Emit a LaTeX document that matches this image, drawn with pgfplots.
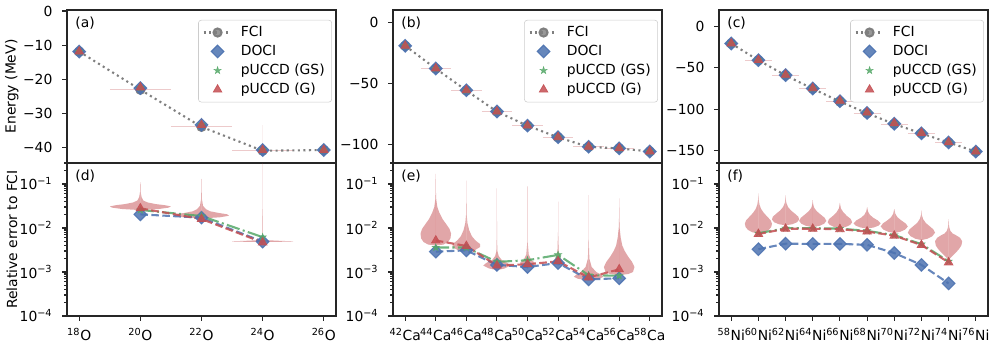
\documentclass[border=0pt]{standalone}
\usepackage{fontspec}
\setmainfont{DejaVu Sans}
\usepackage{pgfplots}
\usepackage{pgfplotstable}
\pgfplotsset{compat=1.18}

\definecolor{cblue}{HTML}{4C72B0}
\definecolor{cgreen}{HTML}{55A868}
\definecolor{cred}{HTML}{C44E52}
\definecolor{cgray}{HTML}{7F7F7F}

\pgfdeclareplotmark{fstar}{%
  \pgfpathmoveto{\pgfqpointpolar{90}{\pgfplotmarksize}}%
  \pgfpathlineto{\pgfqpointpolar{126}{0.382\pgfplotmarksize}}%
  \pgfpathlineto{\pgfqpointpolar{162}{\pgfplotmarksize}}%
  \pgfpathlineto{\pgfqpointpolar{198}{0.382\pgfplotmarksize}}%
  \pgfpathlineto{\pgfqpointpolar{234}{\pgfplotmarksize}}%
  \pgfpathlineto{\pgfqpointpolar{270}{0.382\pgfplotmarksize}}%
  \pgfpathlineto{\pgfqpointpolar{306}{\pgfplotmarksize}}%
  \pgfpathlineto{\pgfqpointpolar{342}{0.382\pgfplotmarksize}}%
  \pgfpathlineto{\pgfqpointpolar{18}{\pgfplotmarksize}}%
  \pgfpathlineto{\pgfqpointpolar{54}{0.382\pgfplotmarksize}}%
  \pgfpathclose\pgfusepathqfillstroke}

% ---------- violin tables (y = relative error, w = half width) ----------
\pgfplotstableread[row sep=\\]{y w\\ 0.0255 0\\ 0.027 0.30\\ 0.029 0.46\\ 0.031 0.50\\ 0.033 0.40\\ 0.035 0.25\\ 0.038 0.12\\ 0.042 0.05\\ 0.05 0.02\\ 0.065 0.006\\ 0.1 0.002\\ 0.11 0\\}\vOa
\pgfplotstableread[row sep=\\]{y w\\ 0.0165 0\\ 0.0175 0.30\\ 0.019 0.45\\ 0.0205 0.42\\ 0.022 0.28\\ 0.024 0.14\\ 0.027 0.07\\ 0.032 0.025\\ 0.045 0.007\\ 0.08 0.002\\ 0.13 0\\}\vOb
\pgfplotstableread[row sep=\\]{y w\\ 0.0048 0\\ 0.0049 0.45\\ 0.0050 0.5\\ 0.0051 0.3\\ 0.0053 0.05\\ 0.006 0.006\\ 0.02 0.002\\ 0.3 0.001\\ 0.31 0\\}\vOc

\pgfplotstableread[row sep=\\]{y w\\ 0.0040 0\\ 0.0042 0.25\\ 0.0048 0.40\\ 0.0058 0.48\\ 0.0075 0.5\\ 0.0095 0.45\\ 0.012 0.35\\ 0.016 0.22\\ 0.022 0.12\\ 0.03 0.05\\ 0.045 0.015\\ 0.07 0.004\\ 0.12 0.002\\ 0.17 0\\}\vCa
\pgfplotstableread[row sep=\\]{y w\\ 0.0030 0\\ 0.0032 0.30\\ 0.0037 0.45\\ 0.0043 0.45\\ 0.0052 0.30\\ 0.0065 0.18\\ 0.009 0.09\\ 0.013 0.035\\ 0.02 0.01\\ 0.04 0.003\\ 0.08 0.0015\\ 0.12 0\\}\vCb
\pgfplotstableread[row sep=\\]{y w\\ 0.0011 0\\ 0.0012 0.25\\ 0.0014 0.45\\ 0.0016 0.35\\ 0.0019 0.15\\ 0.0023 0.06\\ 0.003 0.015\\ 0.006 0.004\\ 0.02 0.0015\\ 0.08 0\\}\vCc
\pgfplotstableread[row sep=\\]{y w\\ 0.0012 0\\ 0.0014 0.20\\ 0.0016 0.25\\ 0.0019 0.12\\ 0.0025 0.04\\ 0.005 0.004\\ 0.02 0.0015\\ 0.09 0\\}\vCd
\pgfplotstableread[row sep=\\]{y w\\ 0.0014 0\\ 0.0016 0.12\\ 0.0018 0.15\\ 0.0021 0.08\\ 0.003 0.02\\ 0.008 0.002\\ 0.04 0\\}\vCe
\pgfplotstableread[row sep=\\]{y w\\ 0.00065 0\\ 0.0007 0.35\\ 0.00078 0.48\\ 0.00088 0.40\\ 0.001 0.25\\ 0.0013 0.10\\ 0.002 0.025\\ 0.005 0.004\\ 0.02 0.0015\\ 0.056 0\\}\vCf
\pgfplotstableread[row sep=\\]{y w\\ 0.00085 0\\ 0.0009 0.30\\ 0.001 0.45\\ 0.0013 0.5\\ 0.0017 0.42\\ 0.0022 0.30\\ 0.003 0.18\\ 0.004 0.10\\ 0.006 0.05\\ 0.01 0.015\\ 0.02 0.003\\ 0.047 0\\}\vCg

\pgfplotstableread[row sep=\\]{y w\\ 0.0075 0\\ 0.008 0.22\\ 0.009 0.38\\ 0.0105 0.47\\ 0.0125 0.5\\ 0.015 0.45\\ 0.018 0.33\\ 0.022 0.2\\ 0.027 0.1\\ 0.034 0.04\\ 0.045 0.008\\ 0.061 0\\}\vNa
\pgfplotstableread[row sep=\\]{y w\\ 0.0115 0\\ 0.0122 0.25\\ 0.0135 0.42\\ 0.0155 0.5\\ 0.018 0.47\\ 0.021 0.35\\ 0.025 0.2\\ 0.03 0.09\\ 0.037 0.03\\ 0.045 0.008\\ 0.056 0\\}\vNb
\pgfplotstableread[row sep=\\]{y w\\ 0.0106 0\\ 0.0112 0.25\\ 0.0125 0.42\\ 0.0145 0.5\\ 0.017 0.44\\ 0.02 0.3\\ 0.024 0.15\\ 0.029 0.05\\ 0.035 0.015\\ 0.043 0\\}\vNc
\pgfplotstableread[row sep=\\]{y w\\ 0.0100 0\\ 0.0106 0.22\\ 0.0118 0.38\\ 0.0135 0.45\\ 0.016 0.4\\ 0.019 0.25\\ 0.023 0.12\\ 0.028 0.035\\ 0.037 0\\}\vNd
\pgfplotstableread[row sep=\\]{y w\\ 0.0097 0\\ 0.0103 0.25\\ 0.0113 0.42\\ 0.0128 0.5\\ 0.0148 0.4\\ 0.0172 0.22\\ 0.02 0.1\\ 0.024 0.03\\ 0.03 0\\}\vNe
\pgfplotstableread[row sep=\\]{y w\\ 0.0077 0\\ 0.0082 0.22\\ 0.0092 0.4\\ 0.0108 0.5\\ 0.0127 0.42\\ 0.015 0.25\\ 0.0175 0.12\\ 0.021 0.04\\ 0.027 0\\}\vNf
\pgfplotstableread[row sep=\\]{y w\\ 0.0053 0\\ 0.0057 0.22\\ 0.0065 0.4\\ 0.0078 0.5\\ 0.0093 0.44\\ 0.011 0.3\\ 0.013 0.16\\ 0.016 0.06\\ 0.02 0.012\\ 0.025 0\\}\vNg
\pgfplotstableread[row sep=\\]{y w\\ 0.0019 0\\ 0.0022 0.1\\ 0.0027 0.25\\ 0.0033 0.38\\ 0.004 0.47\\ 0.005 0.5\\ 0.006 0.42\\ 0.0068 0.28\\ 0.0075 0.15\\ 0.0085 0.07\\ 0.01 0.03\\ 0.012 0.01\\ 0.016 0\\}\vNh

\newcommand\violin[2]{%
  \addplot[violin] table[x expr={#1+\thisrow{w}}, y=y] {#2};
  \addplot[violin] table[x expr={#1-\thisrow{w}}, y=y] {#2};
}

\tikzset{plabel/.style={anchor=north west, inner sep=0pt, font=\fontsize{10}{12}\selectfont}}

\pgfplotsset{
  myax/.style={
    scale only axis, width=193.68pt, height=110.16pt, anchor=south west,
    axis line style={line width=0.8pt, draw=black!85},
    tick style={line width=0.8pt, black!85},
    tick align=outside, tick pos=left,
    major tick length=3.5pt, minor tick length=2pt,
    tick label style={font=\fontsize{10}{12}\selectfont},
    yticklabel style={xshift=-3.5pt},
    xticklabel style={yshift=-2pt},
    unbounded coords=jump,
  },
  toprow/.style={myax, xtick=\empty,
    legend style={at={(0.985,0.935)}, anchor=north east, draw=black!20,
      rounded corners=2pt, fill=white, fill opacity=0.8, text opacity=1, draw opacity=1,
      inner xsep=3pt, inner ysep=2.4pt, row sep=0.7pt, /tikz/column sep=4pt,
      font=\fontsize{10}{12}\selectfont},
    legend cell align=left,
    legend image code/.code={\draw[mark repeat=2,mark phase=2,##1] plot coordinates {(0pt,0pt) (10pt,0pt) (20pt,0pt)};},
  },
  botrow/.style={myax, ymin=1e-4, ymax=0.3,
    ytick={1e-4,1e-3,1e-2,1e-1},
    yticklabels={10\textsuperscript{−4},10\textsuperscript{−3},10\textsuperscript{−2},10\textsuperscript{−1}},
    minor ytick={2e-4,3e-4,4e-4,5e-4,6e-4,7e-4,8e-4,9e-4,2e-3,3e-3,4e-3,5e-3,6e-3,7e-3,8e-3,9e-3,2e-2,3e-2,4e-2,5e-2,6e-2,7e-2,8e-2,9e-2,2e-1,3e-1},
  },
  violin/.style={draw=none, fill=cred, fill opacity=0.5, mark=none, forget plot},
  tviol/.style={cred, opacity=0.3, line width=0.7pt, mark=none, forget plot},
  fci/.style={cgray, line width=1.5pt, dash pattern=on 1.5pt off 2.5pt, mark=*, mark size=2.9pt, mark options={solid, fill=cgray, draw=cgray}},
  doci/.style={only marks, mark=square*, mark size=3.2pt, mark options={rotate=45, solid, fill=cblue, draw=cblue, fill opacity=0.85, draw opacity=0.9, line width=0.8pt}},
  gs/.style={only marks, mark=fstar, mark size=2.8pt, mark options={solid, fill=cgreen, draw=cgreen, opacity=0.85, line width=0.3pt}},
  gg/.style={only marks, mark=triangle*, mark size=3.6pt, mark options={solid, fill=cred, draw=cred, opacity=0.85, line width=0.5pt}},
  ldoci/.style={cblue, opacity=0.85, line width=1.5pt, dash pattern=on 5.5pt off 2.4pt, mark=square*, mark size=3.2pt, mark options={rotate=45, solid, fill=cblue, draw=cblue, line width=0.8pt}},
  lgs/.style={cgreen, opacity=0.85, line width=1.5pt, dash pattern=on 9.6pt off 2.4pt on 1.5pt off 2.4pt, mark=fstar, mark size=2.8pt, mark options={solid, fill=cgreen, line width=0.3pt}},
  lgg/.style={cred, opacity=0.85, line width=1.5pt, dash pattern=on 5.5pt off 2.4pt, mark=triangle*, mark size=3.6pt, mark options={solid, fill=cred, line width=0.5pt}},
}

\begin{document}
\begin{tikzpicture}
\useasboundingbox (0,0) rectangle (717.12pt,249.12pt);

% ================= (a) =================
\begin{axis}[toprow, at={(48.24pt,131.76pt)}, xmin=-0.2, xmax=4.2, ymin=-44.6, ymax=0.3,
  ytick={0,-10,-20,-30,-40}, yticklabels={0,−10,−20,−30,−40},
  ylabel={Energy (MeV)}, ylabel style={at={(axis description cs:-0.205,0.5)}, anchor=center, font=\fontsize{10}{12}\selectfont}]
\addplot[tviol] coordinates {(0.5,-23.1) (1.5,-23.1) (1.5,nan) (1.5,-33.8) (2.5,-33.8) (2.5,nan) (2.5,-41.0) (3.5,-41.0)};
\addplot[cred, opacity=0.08, line width=0.5pt, forget plot] coordinates {(1,-23) (1,-21) (1,nan) (2,-34) (2,-31) (2,nan) (3,-41) (3,-33.5)};
\addplot[fci] coordinates {(0,-11.9) (1,-23.1) (2,-34.0) (3,-41.0) (4,-40.8)};
\addlegendentry{FCI}
\addplot[doci] coordinates {(0,-11.9) (1,-22.63) (2,-33.42) (3,-40.80) (4,-40.8)};
\addlegendentry{DOCI}
\addplot[gs] coordinates {(0,-11.9) (1,-22.51) (2,-33.36) (3,-40.75) (4,-40.8)};
\addlegendentry{pUCCD (GS)}
\addplot[gg] coordinates {(0,-11.9) (1,-22.45) (2,-33.46) (3,-40.81) (4,-40.8)};
\addlegendentry{pUCCD (G)}
\node[plabel] at (rel axis cs:0.03,0.955) {(a)};
\end{axis}

% ================= (b) =================
\begin{axis}[toprow, at={(282.96pt,131.76pt)}, xmin=-0.4, xmax=8.4, ymin=-115.5, ymax=10.5,
  ytick={0,-50,-100}, yticklabels={0,−50,−100}]
\addplot[tviol] coordinates {(0.5,-37.8) (1.5,-37.8) (1.5,nan) (1.5,-55.8) (2.5,-55.8) (2.5,nan) (2.5,-73.2) (3.5,-73.2) (3.5,nan) (3.5,-84.8) (4.5,-84.8) (4.5,nan) (4.5,-94.4) (5.5,-94.4) (5.5,nan) (5.5,-102.2) (6.5,-102.2) (6.5,nan) (6.5,-103.5) (7.5,-103.5)};
\addplot[fci] coordinates {(0,-19.0) (1,-37.8) (2,-55.8) (3,-73.2) (4,-84.8) (5,-94.4) (6,-102.2) (7,-103.5) (8,-106.0)};
\addlegendentry{FCI}
\addplot[doci] coordinates {(0,-19.0) (1,-37.69) (2,-55.62) (3,-73.09) (4,-84.69) (5,-94.25) (6,-102.13) (7,-103.43) (8,-106.0)};
\addlegendentry{DOCI}
\addplot[gs] coordinates {(0,-19.0) (1,-37.66) (2,-55.60) (3,-73.08) (4,-84.64) (5,-94.17) (6,-102.11) (7,-103.42) (8,-106.0)};
\addlegendentry{pUCCD (GS)}
\addplot[gg] coordinates {(0,-19.0) (1,-37.60) (2,-55.58) (3,-73.10) (4,-84.67) (5,-94.24) (6,-102.12) (7,-103.38) (8,-106.0)};
\addlegendentry{pUCCD (G)}
\node[plabel] at (rel axis cs:0.03,0.955) {(b)};
\end{axis}

% ================= (c) =================
\begin{axis}[toprow, at={(517.68pt,131.76pt)}, xmin=-0.45, xmax=9.45, ymin=-165.5, ymax=20.4,
  ytick={0,-50,-100,-150}, yticklabels={0,−50,−100,−150}]
\addplot[tviol] coordinates {(0.5,-40.7) (1.5,-40.7) (1.5,nan) (1.5,-59.0) (2.5,-59.0) (2.5,nan) (2.5,-75.3) (3.5,-75.3) (3.5,nan) (3.5,-90.8) (4.5,-90.8) (4.5,nan) (4.5,-105.1) (5.5,-105.1) (5.5,nan) (5.5,-118.1) (6.5,-118.1) (6.5,nan) (6.5,-129.6) (7.5,-129.6) (7.5,nan) (7.5,-140.6) (8.5,-140.6)};
\addplot[fci] coordinates {(0,-20.3) (1,-40.7) (2,-59.0) (3,-75.3) (4,-90.8) (5,-105.1) (6,-118.1) (7,-129.6) (8,-140.6) (9,-151.6)};
\addlegendentry{FCI}
\addplot[doci] coordinates {(0,-20.3) (1,-40.57) (2,-58.74) (3,-74.97) (4,-90.41) (5,-104.66) (6,-117.78) (7,-129.41) (8,-140.52) (9,-151.6)};
\addlegendentry{DOCI}
\addplot[gs] coordinates {(0,-20.3) (1,-40.39) (2,-58.42) (3,-74.55) (4,-89.92) (5,-104.20) (6,-117.29) (7,-129.04) (8,-140.35) (9,-151.6)};
\addlegendentry{pUCCD (GS)}
\addplot[gg] coordinates {(0,-20.3) (1,-40.40) (2,-58.43) (3,-74.58) (4,-89.95) (5,-104.23) (6,-117.31) (7,-129.07) (8,-140.37) (9,-151.6)};
\addlegendentry{pUCCD (G)}
\node[plabel] at (rel axis cs:0.03,0.955) {(c)};
\end{axis}

% ================= (d) =================
\begin{semilogyaxis}[botrow, at={(48.24pt,21.6pt)}, xmin=-0.2, xmax=4.2,
  xtick={0,1,2,3,4},
  xticklabels={\textsuperscript{18}O,\textsuperscript{20}O,\textsuperscript{22}O,\textsuperscript{24}O,\textsuperscript{26}O},
  ylabel={Relative error to FCI}, ylabel style={at={(axis description cs:-0.205,0.5)}, anchor=center, font=\fontsize{10}{12}\selectfont}]
\violin{1}{\vOa}
\violin{2}{\vOb}
\violin{3}{\vOc}
\addplot[ldoci] coordinates {(1,0.0204) (2,0.0172) (3,0.0049)};
\addplot[lgs] coordinates {(1,0.0257) (2,0.0187) (3,0.0062)};
\addplot[lgg] coordinates {(1,0.028) (2,0.016) (3,0.0047)};
\node[plabel] at (rel axis cs:0.03,0.955) {(d)};
\end{semilogyaxis}

% ================= (e) =================
\begin{semilogyaxis}[botrow, at={(282.96pt,21.6pt)}, xmin=-0.4, xmax=8.4,
  xtick={0,1,2,3,4,5,6,7,8},
  xticklabels={\textsuperscript{42}Ca,\textsuperscript{44}Ca,\textsuperscript{46}Ca,\textsuperscript{48}Ca,\textsuperscript{50}Ca,\textsuperscript{52}Ca,\textsuperscript{54}Ca,\textsuperscript{56}Ca,\textsuperscript{58}Ca}]
\violin{1}{\vCa}
\violin{2}{\vCb}
\violin{3}{\vCc}
\violin{4}{\vCd}
\violin{5}{\vCe}
\violin{6}{\vCf}
\violin{7}{\vCg}
\addplot[ldoci] coordinates {(1,0.0029) (2,0.0031) (3,0.00145) (4,0.0013) (5,0.0016) (6,0.00068) (7,0.00072)};
\addplot[lgs] coordinates {(1,0.0036) (2,0.0036) (3,0.0017) (4,0.00185) (5,0.00245) (6,0.00085) (7,0.00082)};
\addplot[lgg] coordinates {(1,0.0052) (2,0.0039) (3,0.0014) (4,0.0015) (5,0.00175) (6,0.00075) (7,0.00115)};
\node[plabel] at (rel axis cs:0.03,0.955) {(e)};
\end{semilogyaxis}

% ================= (f) =================
\begin{semilogyaxis}[botrow, at={(517.68pt,21.6pt)}, xmin=-0.45, xmax=9.45,
  xtick={0,1,2,3,4,5,6,7,8,9},
  xticklabels={\textsuperscript{58}Ni,\textsuperscript{60}Ni,\textsuperscript{62}Ni,\textsuperscript{64}Ni,\textsuperscript{66}Ni,\textsuperscript{68}Ni,\textsuperscript{70}Ni,\textsuperscript{72}Ni,\textsuperscript{74}Ni,\textsuperscript{76}Ni}]
\violin{1}{\vNa}
\violin{2}{\vNb}
\violin{3}{\vNc}
\violin{4}{\vNd}
\violin{5}{\vNe}
\violin{6}{\vNf}
\violin{7}{\vNg}
\violin{8}{\vNh}
\addplot[ldoci] coordinates {(1,0.0033) (2,0.0044) (3,0.00435) (4,0.00435) (5,0.00415) (6,0.0027) (7,0.00145) (8,0.00055)};
\addplot[lgs] coordinates {(1,0.0076) (2,0.0099) (3,0.0099) (4,0.0097) (5,0.0086) (6,0.0069) (7,0.0043) (8,0.00175)};
\addplot[lgg] coordinates {(1,0.0073) (2,0.0096) (3,0.0096) (4,0.0094) (5,0.0083) (6,0.0067) (7,0.0041) (8,0.00165)};
\node[plabel] at (rel axis cs:0.03,0.955) {(f)};
\end{semilogyaxis}
\end{tikzpicture}
\end{document}
